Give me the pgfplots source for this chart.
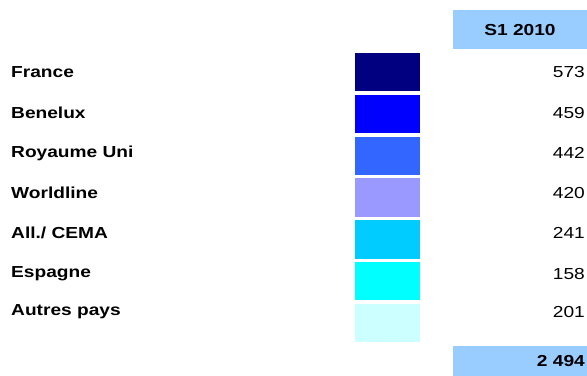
\documentclass[border=0pt]{standalone}
\usepackage{pgfplots}
\pgfplotsset{compat=1.18}
\usepackage{fontspec}
\setmainfont{Liberation Sans}[FakeStretch=1.2]
\definecolor{cFR}{HTML}{000080}
\definecolor{cBE}{HTML}{0000FF}
\definecolor{cUK}{HTML}{3366FF}
\definecolor{cWL}{HTML}{9999FF}
\definecolor{cAL}{HTML}{00CCFF}
\definecolor{cES}{HTML}{00FFFF}
\definecolor{cAU}{HTML}{CCFFFF}
\definecolor{cHD}{HTML}{99CCFF}
\newcommand{\fs}{\fontsize{16}{19}\selectfont}
\tikzset{
  lab/.style={anchor=west, font=\fs\bfseries, inner sep=0pt},
  val/.style={anchor=east, font=\fs, inner sep=0pt},
}
\begin{document}
\begin{tikzpicture}
\begin{axis}[
  width=587bp, height=376bp, scale only axis,
  xmin=0, xmax=587, ymin=0, ymax=376, y dir=reverse,
  hide axis, clip=false,
]
% background
\addplot[fill=white, draw=none] coordinates {(0,0)(587,0)(587,376)(0,376)};
% header and total boxes
\addplot[fill=cHD, draw=none] coordinates {(453,10)(587,10)(587,49)(453,49)};
\addplot[fill=cHD, draw=none] coordinates {(453,346)(587,346)(587,376)(453,376)};
% colour squares
\addplot[fill=cFR, draw=none] coordinates {(355,53)(420,53)(420,91.3)(355,91.3)};
\addplot[fill=cBE, draw=none] coordinates {(355,94.8)(420,94.8)(420,133.1)(355,133.1)};
\addplot[fill=cUK, draw=none] coordinates {(355,136.6)(420,136.6)(420,174.9)(355,174.9)};
\addplot[fill=cWL, draw=none] coordinates {(355,178.4)(420,178.4)(420,216.7)(355,216.7)};
\addplot[fill=cAL, draw=none] coordinates {(355,220.2)(420,220.2)(420,258.5)(355,258.5)};
\addplot[fill=cES, draw=none] coordinates {(355,262)(420,262)(420,300.3)(355,300.3)};
\addplot[fill=cAU, draw=none] coordinates {(355,303.8)(420,303.8)(420,342.1)(355,342.1)};
% labels
\node[lab] at (axis cs:11,72) {France};
\node[lab] at (axis cs:11,113) {Benelux};
\node[lab] at (axis cs:11,153) {Royaume Uni};
\node[lab] at (axis cs:11,193) {Worldline};
\node[lab] at (axis cs:11,233) {All./ CEMA};
\node[lab] at (axis cs:11,274) {Espagne};
\node[lab] at (axis cs:11,312) {Autres pays};
% values
\node[val] at (axis cs:585,72) {573};
\node[val] at (axis cs:585,113) {459};
\node[val] at (axis cs:585,153) {442};
\node[val] at (axis cs:585,193) {420};
\node[val] at (axis cs:585,233) {241};
\node[val] at (axis cs:585,274) {158};
\node[val] at (axis cs:585,312) {201};
\node[font=\fs\bfseries, inner sep=0pt] at (axis cs:520,30) {S1 2010};
\node[val, font=\fs\bfseries] at (axis cs:585,361) {2 494};
\end{axis}
\end{tikzpicture}
\end{document}
